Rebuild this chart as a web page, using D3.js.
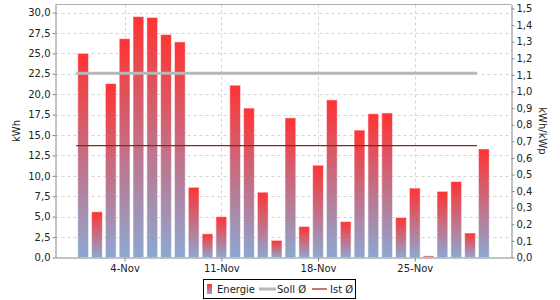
<!DOCTYPE html>
<html><head><meta charset="utf-8">
<script src="https://cdn.jsdelivr.net/npm/d3@7"></script>
<style>body{margin:0;background:#fff}svg{display:block;font-family:"DejaVu Sans",sans-serif}</style>
</head><body><svg id="c" width="560" height="300"></svg>
<script>
const days = [1,2,3,4,5,6,7,8,9,10,11,12,13,14,15,16,17,18,19,20,21,22,23,24,25,26,27,28,29,30];
const energie = [25.0,5.6,21.3,26.8,29.5,29.4,27.3,26.4,8.6,2.9,5.0,21.1,18.3,8.0,2.1,17.1,3.8,11.3,19.3,4.4,15.6,17.6,17.7,4.9,8.5,0.2,8.1,9.3,3.0,13.3];
const sollAvg = 22.55;
const istAvg = 13.7;
const tickDays = [4,11,18,25];
const tickLabels = ["4-Nov","11-Nov","18-Nov","25-Nov"];
const leftTicks = [0,2.5,5,7.5,10,12.5,15,17.5,20,22.5,25,27.5,30];
const rightTicks = [0,0.1,0.2,0.3,0.4,0.5,0.6,0.7,0.8,0.9,1.0,1.1,1.2,1.3,1.4,1.5];

const svg = d3.select("#c");
const L = 55.5, R = 511.5, T = 4.5, B = 257.5;
const x = d3.scaleLinear().domain([-1, 32]).range([L, R]);
const y = d3.scaleLinear().domain([0, 30.98]).range([B, T]);
const y2 = d3.scaleLinear().domain([0, 1.524]).range([B, T]);
const fmt = v => d3.format(".1f")(v).replace(".", ",");

const defs = svg.append("defs");
const g = defs.append("linearGradient").attr("id","bg").attr("x1",0).attr("y1",0).attr("x2",0).attr("y2",1);
g.append("stop").attr("offset","0%").attr("stop-color","#ff3333");
g.append("stop").attr("offset","100%").attr("stop-color","#8ca8d2");

// grid
svg.append("g").selectAll("line").data(leftTicks.filter(d=>d>0)).join("line")
  .attr("x1",L).attr("x2",R).attr("y1",d=>Math.round(y(d))+0.5).attr("y2",d=>Math.round(y(d))+0.5)
  .attr("stroke","#d4d4d4").attr("stroke-dasharray","3,3");
svg.append("g").selectAll("line").data(tickDays).join("line")
  .attr("x1",d=>Math.round(x(d))+0.5).attr("x2",d=>Math.round(x(d))+0.5).attr("y1",T).attr("y2",B)
  .attr("stroke","#d4d4d4").attr("stroke-dasharray","3,3");

// bars
const bw = 10.8;
svg.append("g").selectAll("rect").data(days).join("rect")
  .attr("x",(d)=>x(d)-bw/2).attr("width",bw)
  .attr("y",(d,i)=>y(energie[i])).attr("height",(d,i)=>B-y(energie[i]))
  .attr("fill","url(#bg)").attr("stroke","rgba(255,255,255,0.55)").attr("stroke-width",1);

// average lines
svg.append("line").attr("x1",x(0.5)).attr("x2",x(29.5)).attr("y1",y(sollAvg)).attr("y2",y(sollAvg))
  .attr("stroke","#b8b8b8").attr("stroke-width",3);
svg.append("line").attr("x1",x(0.5)).attr("x2",x(29.5)).attr("y1",y(istAvg)).attr("y2",y(istAvg))
  .attr("stroke","#a31a1a").attr("stroke-width",1.2);

// frame
svg.append("line").attr("x1",L).attr("x2",R).attr("y1",T).attr("y2",T).attr("stroke","#b0b0b0");

// axes
const ax = svg.append("g").attr("transform",`translate(0,${B})`)
  .call(d3.axisBottom(x).tickValues(tickDays).tickFormat((d,i)=>tickLabels[i]).tickSize(4).tickSizeOuter(0));
const ay = svg.append("g").attr("transform",`translate(${L},0)`)
  .call(d3.axisLeft(y).tickValues(leftTicks).tickFormat(fmt).tickSize(3).tickSizeOuter(0));
const ay2 = svg.append("g").attr("transform",`translate(${R},0)`)
  .call(d3.axisRight(y2).tickValues(rightTicks).tickFormat(fmt).tickSize(3).tickSizeOuter(0));
[ax,ay,ay2].forEach(a=>{
  a.select(".domain").attr("stroke","#888");
  a.selectAll(".tick line").attr("stroke","#888");
  a.selectAll("text").attr("fill","#222").attr("font-size",10).attr("font-family","DejaVu Sans, sans-serif");
});
ax.select(".domain").attr("d",`M${L},0.5H${R}`);
ax.selectAll("text").attr("dy","0.9em").attr("y",5);
ay.selectAll("text").attr("x",-5);
ay2.selectAll("text").attr("x",5);

// axis titles
svg.append("text").attr("transform","translate(20,131) rotate(-90)").attr("text-anchor","middle")
  .attr("font-size",10).attr("fill","#222").text("kWh");
svg.append("text").attr("transform","translate(539,131) rotate(90)").attr("text-anchor","middle")
  .attr("font-size",10).attr("fill","#222").text("kWh/kWp");

// legend
const lg = svg.append("g");
lg.append("rect").attr("x",203.5).attr("y",279.5).attr("width",152).attr("height",19).attr("fill","#fff").attr("stroke","#000");
lg.append("rect").attr("x",207).attr("y",284).attr("width",5).attr("height",10).attr("fill","url(#bg)");
lg.append("text").attr("x",217).attr("y",293).attr("font-size",10).attr("fill","#222").text("Energie");
lg.append("line").attr("x1",259).attr("x2",276).attr("y1",289).attr("y2",289).attr("stroke","#b8b8b8").attr("stroke-width",3);
lg.append("text").attr("x",277).attr("y",293).attr("font-size",10).attr("fill","#222").text("Soll Ø");
lg.append("line").attr("x1",312).attr("x2",327).attr("y1",289).attr("y2",289).attr("stroke","#a31a1a").attr("stroke-width",1.2);
lg.append("text").attr("x",330).attr("y",293).attr("font-size",10).attr("fill","#222").text("Ist Ø");
</script></body></html>
